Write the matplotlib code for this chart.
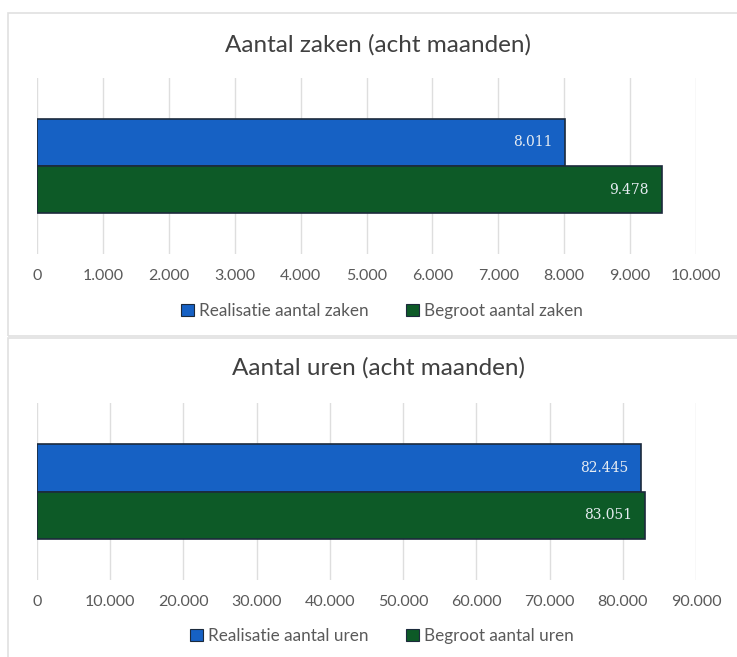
import matplotlib
matplotlib.use("Agg")
import matplotlib.pyplot as plt
from matplotlib.patches import Patch, Rectangle
from matplotlib.ticker import FuncFormatter, MultipleLocator

# ---- data ----
titles = ["Aantal zaken (acht maanden)", "Aantal uren (acht maanden)"]
series_names_top = ["Realisatie aantal zaken", "Begroot aantal zaken"]
series_names_bottom = ["Realisatie aantal uren", "Begroot aantal uren"]
values_top = [8011, 9478]
values_bottom = [82445, 83051]
xmax_top = 10000
xmax_bottom = 90000
step_top = 1000
step_bottom = 10000

BLUE = "#1661c4"
GREEN = "#0d5a27"
EDGE = "#1c2a3c"
GRID = "#dedede"
TXT = "#5a5a5a"
TITLE = "#404040"
FONT = "Lato"

W, H = 737, 657
fig = plt.figure(figsize=(W / 100, H / 100), dpi=100)
fig.patch.set_facecolor("white")

def fx(px):
    return px / W

def fy(py):
    return 1 - py / H

def fmt(v, pos=None):
    return f"{int(round(v)):,}".replace(",", ".")

def make_chart(top_px, bot_px, values, names, xmax, step, title, title_y, legend_y):
    ax = fig.add_axes([fx(37), fy(bot_px), fx(696) - fx(37), fy(top_px) - fy(bot_px)])
    h = 0.268
    offs = [h / 2, -h / 2]
    cols = [BLUE, GREEN]
    for v, o, c in zip(values, offs, cols):
        ax.barh(o, v, height=h, color=c, edgecolor=EDGE, linewidth=1.2, zorder=3)
        ax.annotate(fmt(v), xy=(v, o), xytext=(-9, 0), textcoords="offset points",
                    ha="right", va="center", color="#e6ecf2", fontsize=10,
                    family="DejaVu Serif", zorder=4)
    ax.set_xlim(0, xmax)
    ax.set_ylim(-0.5, 0.5)
    ax.xaxis.set_major_locator(MultipleLocator(step))
    ax.xaxis.set_major_formatter(FuncFormatter(fmt))
    ax.set_yticks([])
    ax.grid(axis="x", color=GRID, linewidth=1, zorder=0)
    for s in ax.spines.values():
        s.set_visible(False)
    ax.tick_params(axis="x", length=0, pad=11, labelsize=11.5, labelcolor=TXT)
    for lab in ax.get_xticklabels():
        lab.set_family(FONT)
    ax.set_axisbelow(True)
    fig.text(fx(378), fy(title_y), title, ha="center", va="center",
             fontsize=17.5, color=TITLE, family=FONT)
    handles = [Patch(facecolor=c, edgecolor=EDGE, linewidth=0.8) for c in cols]
    fig.legend(handles, names, loc="center", bbox_to_anchor=(fx(382), fy(legend_y)),
               ncol=2, frameon=False, handlelength=0.75, handleheight=0.75,
               handletextpad=0.3, columnspacing=2.2,
               prop={"family": FONT, "size": 12.3}, labelcolor=TXT)
    return ax

make_chart(78, 254, values_top, series_names_top, xmax_top, step_top, titles[0], 45, 311)
make_chart(403, 580, values_bottom, series_names_bottom, xmax_bottom, step_bottom, titles[1], 368, 636)

# chart frames
fig.add_artist(Rectangle((fx(8), fy(336)), 1.0, fy(13) - fy(336), transform=fig.transFigure,
                         fill=False, edgecolor="#e0e0e0", linewidth=1.2))
fig.add_artist(Rectangle((fx(8), fy(700)), 1.0, fy(338) - fy(700), transform=fig.transFigure,
                         fill=False, edgecolor="#e0e0e0", linewidth=1.2))

fig.savefig("out.png", dpi=100, facecolor="white")
